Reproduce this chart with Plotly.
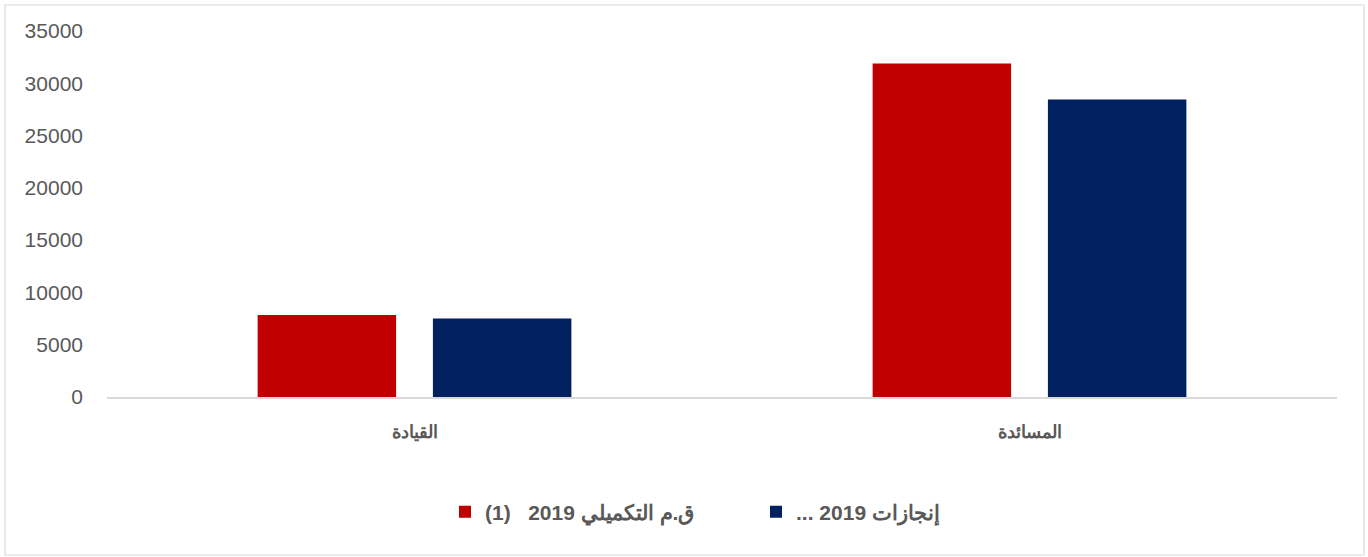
import plotly.graph_objects as go

categories = ["القيادة", "المسائدة"]
series_names = ["\u202bق.م التكميلي 2019   (1)\u202c", "\u202bإنجازات 2019 ...\u202c"]
planned = [7850, 31900]
achieved = [7500, 28450]
tick_vals = [0, 5000, 10000, 15000, 20000, 25000, 30000, 35000]

RED = "#c00000"
NAVY = "#002060"
GREY = "#595959"

fig = go.Figure()
fig.add_trace(go.Bar(x=categories, y=planned, name=series_names[0],
                     marker=dict(color=RED, line=dict(width=0))))
fig.add_trace(go.Bar(x=categories, y=achieved, name=series_names[1],
                     marker=dict(color=NAVY, line=dict(width=0))))

# plot area: x 107..1337, y 31..397
L, R, T, B = 107, 31, 31, 160
pw, ph = 1368 - L - R, 557 - T - B

def px(x):
    return (x - L) / pw

def py(y):
    return (557 - B - y) / ph

fig.update_layout(
    width=1368,
    height=557,
    margin=dict(l=L, r=R, t=T, b=B, autoexpand=False),
    paper_bgcolor="white",
    plot_bgcolor="white",
    barmode="group",
    bargap=0.43,
    bargroupgap=0.21,
    font=dict(family="Arial", color=GREY),
    xaxis=dict(
        showline=True, linecolor="#d9d9d9", linewidth=1.5,
        ticks="", showgrid=False, automargin=False,
        tickfont=dict(size=18, weight="bold", color=GREY),
        ticklabelstandoff=18,
    ),
    yaxis=dict(
        range=[0, 35000], tickvals=tick_vals, tickformat="d", showgrid=False,
        zeroline=False, showline=False, ticks="", automargin=False,
        tickfont=dict(size=21, color=GREY), ticklabelstandoff=23,
    ),
    legend=dict(
        orientation="h", x=px(445), xanchor="left", y=py(512), yanchor="middle",
        font=dict(size=21, weight="bold", color=GREY),
        itemwidth=30, entrywidthmode="pixels", entrywidth=266,
    ),
    showlegend=True,
)

fig.add_shape(type="rect", xref="paper", yref="paper",
              x0=px(5), x1=px(1364), y0=py(555), y1=py(5),
              line=dict(color="#d9d9d9", width=1.2), layer="below")

fig.write_html("out.html", config={"displayModeBar": False},
               post_script="document.body.style.margin='0';")
